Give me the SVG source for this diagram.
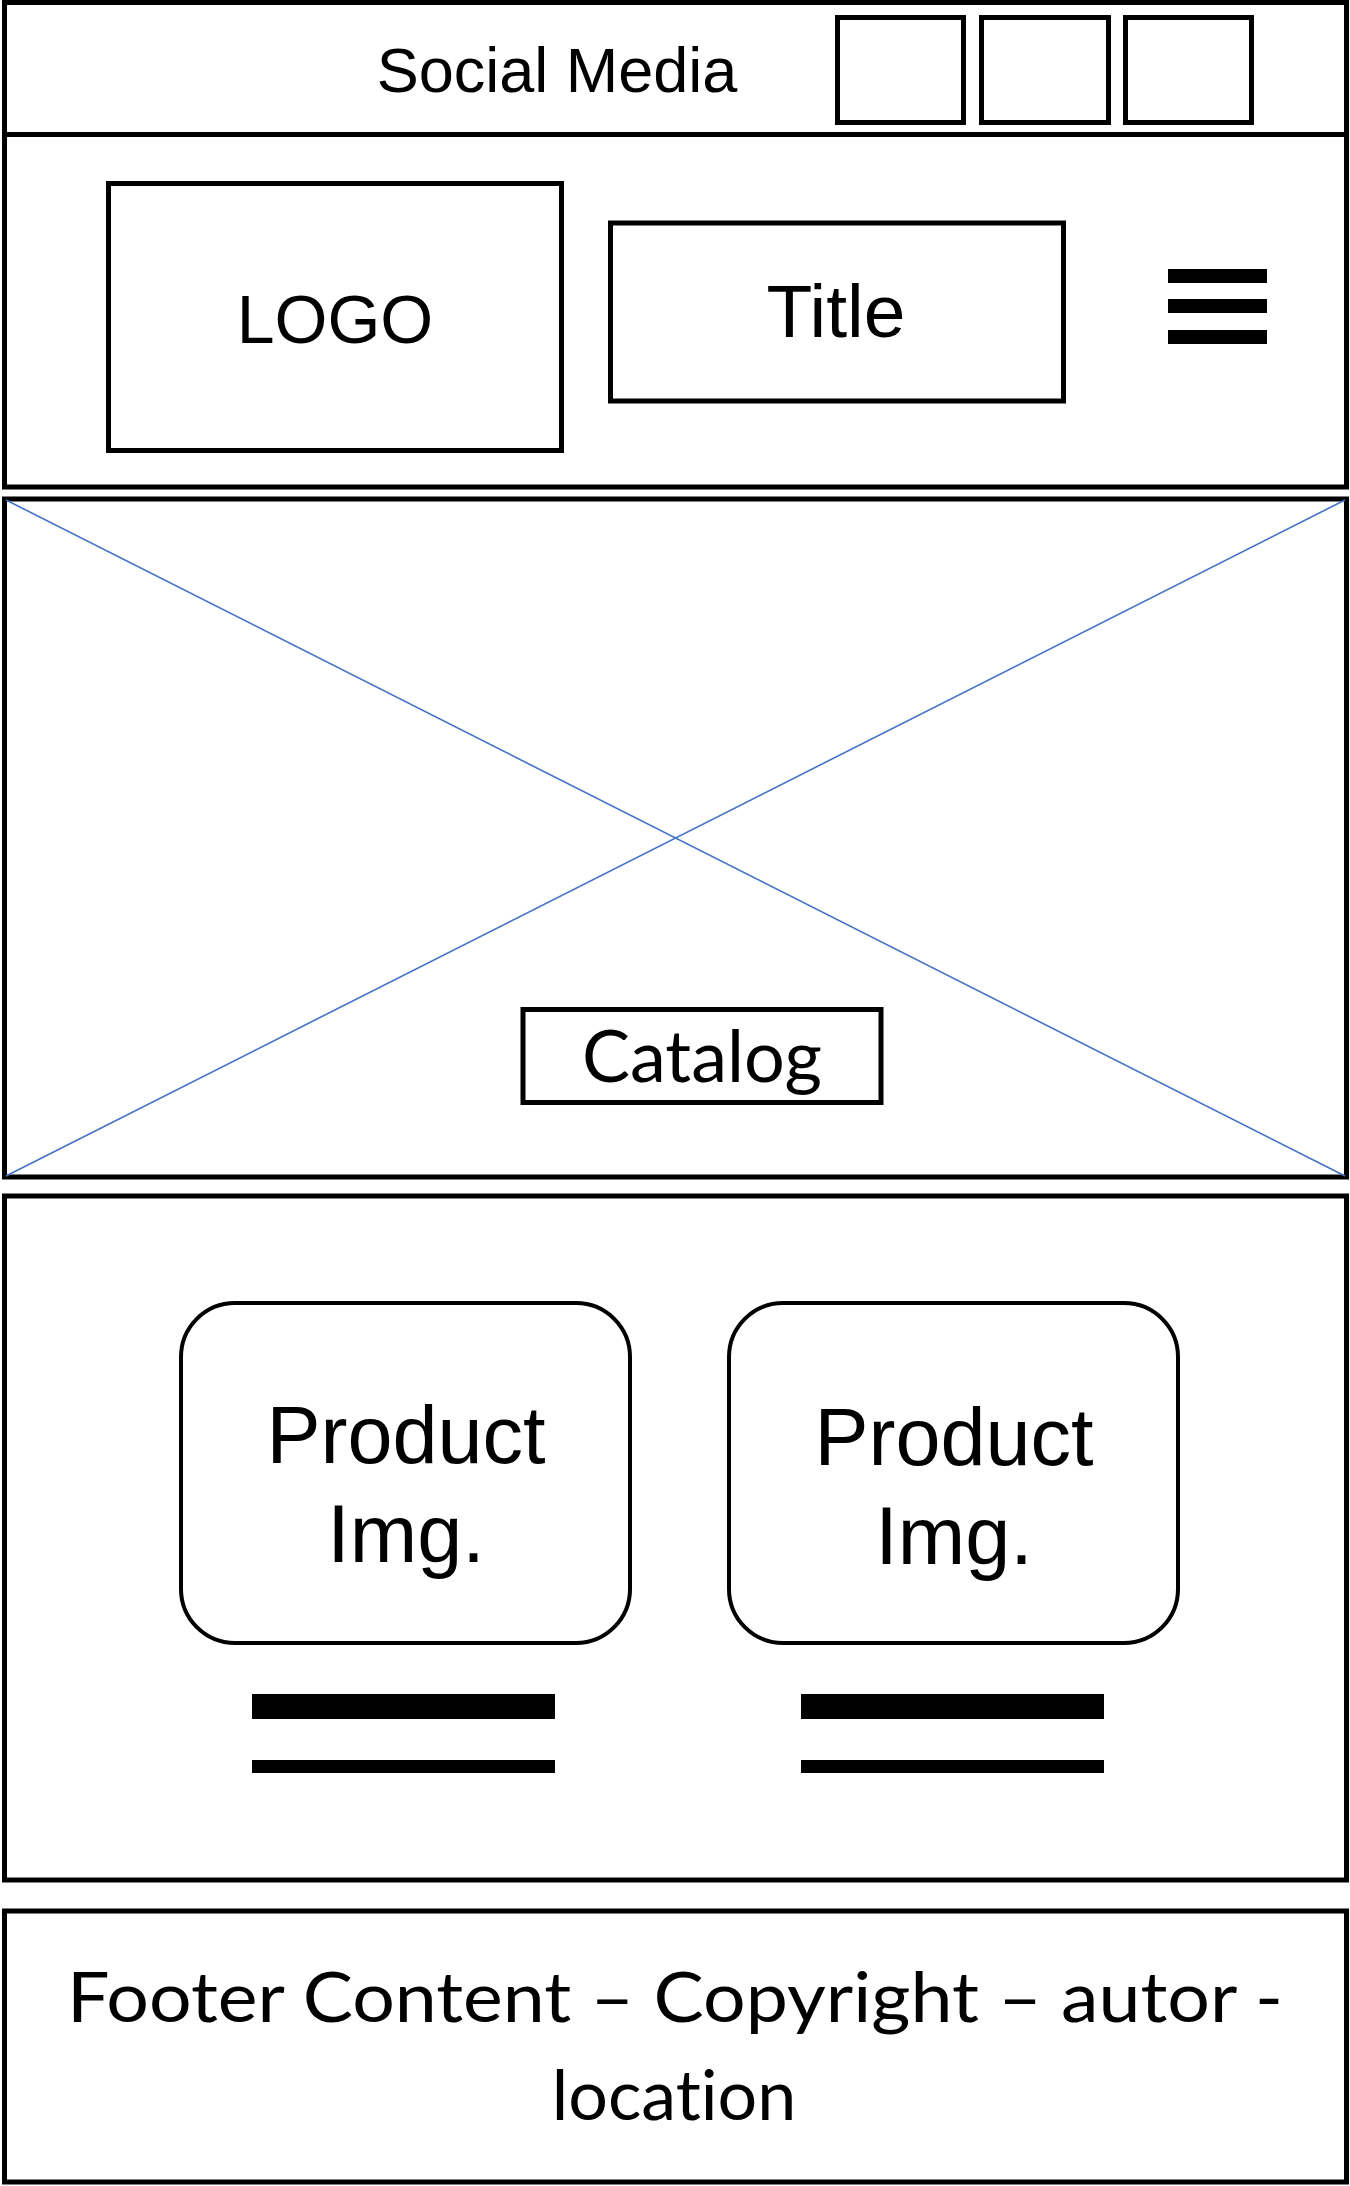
<svg xmlns="http://www.w3.org/2000/svg" width="1350" height="2186" viewBox="0 0 1350 2186">
<style>
.box{fill:#fff;stroke:#000;stroke-width:5}
.card{fill:#fff;stroke:#000;stroke-width:4}
.ar{font-family:"Liberation Sans",Arial,sans-serif;fill:#000;text-anchor:middle}
.cal{font-family:Lato,"Open Sans",sans-serif;fill:#000;text-anchor:middle;font-variant-ligatures:none}
.x{stroke:#4472C4;stroke-width:1.6}
</style>
<rect width="1350" height="2186" fill="#fff"/>
<g id="header">
<rect class="box" x="4.5" y="2.5" width="1342" height="484.5"/>
<line x1="4.5" y1="134.5" x2="1346.5" y2="134.5" stroke="#000" stroke-width="5"/>
</g>
<g id="social-media">
<text class="ar" x="557" y="92" font-size="63">Social Media</text>
<rect class="box" x="837.5" y="17.5" width="126" height="105"/>
<rect class="box" x="981.5" y="17.5" width="127" height="105"/>
<rect class="box" x="1125.5" y="17.5" width="126" height="105"/>
</g>
<g id="logo">
<rect class="box" x="108.5" y="183.5" width="453" height="267"/>
<text class="ar" x="335" y="343" font-size="68">LOGO</text>
</g>
<g id="title">
<rect class="box" x="610.5" y="223" width="453" height="178"/>
<text class="ar" x="836" y="337" font-size="75">Title</text>
</g>
<g id="menu">
<rect x="1168" y="269" width="99" height="14" fill="#000"/>
<rect x="1168" y="299" width="99" height="14" fill="#000"/>
<rect x="1168" y="330" width="99" height="14" fill="#000"/>
</g>
<g id="hero">
<rect class="box" x="4.5" y="499" width="1342" height="678"/>
<line class="x" x1="6" y1="500" x2="1345" y2="1176"/>
<line class="x" x1="1345" y1="500" x2="6" y2="1176"/>
</g>
<g id="catalog">
<rect class="box" x="523" y="1009.5" width="358" height="93"/>
<text class="cal" x="702" y="1082" font-size="72">Catalog</text>
</g>
<g id="products">
<rect class="box" x="4.5" y="1196" width="1342" height="684"/>
</g>
<g id="product-1">
<rect class="card" x="181" y="1303" width="449" height="340" rx="54" ry="54"/>
<text class="ar" x="406" y="1463" font-size="81">Product</text>
<text class="ar" x="406" y="1562" font-size="81">Img.</text>
<rect x="252" y="1694" width="303" height="25" fill="#000"/>
<rect x="252" y="1760" width="303" height="13" fill="#000"/>
</g>
<g id="product-2">
<rect class="card" x="729" y="1303" width="449" height="340" rx="54" ry="54"/>
<text class="ar" x="954" y="1465" font-size="81">Product</text>
<text class="ar" x="954" y="1564" font-size="81">Img.</text>
<rect x="801" y="1694" width="303" height="25" fill="#000"/>
<rect x="801" y="1760" width="303" height="13" fill="#000"/>
</g>
<g id="footer">
<rect class="box" x="4.5" y="1911" width="1342" height="271"/>
<text class="cal" x="675" y="2022" font-size="70" textLength="1216" lengthAdjust="spacingAndGlyphs">Footer Content – Copyright – autor -</text>
<text class="cal" x="674" y="2120" font-size="70">location</text>
</g>
<g id="connectors"/>
</svg>
